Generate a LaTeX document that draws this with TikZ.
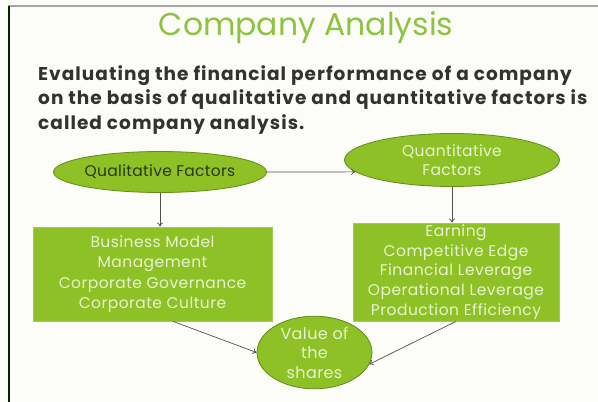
\documentclass[tikz,border=0pt]{standalone}
\usepackage{fontspec}
\setmainfont{Poppins}
\usetikzlibrary{shapes.geometric,arrows.meta,calc}
\definecolor{bg}{RGB}{252,252,248}
\definecolor{titlegreen}{RGB}{141,196,63}
\definecolor{fillgreen}{RGB}{141,193,38}
\definecolor{edgegreen}{RGB}{96,140,24}
\definecolor{boxedge}{RGB}{160,206,80}
\definecolor{lighttext}{RGB}{232,243,208}
\definecolor{darktext}{RGB}{40,56,16}
\definecolor{bodytext}{RGB}{50,50,50}
\definecolor{arrowgray}{RGB}{80,80,80}
\newcommand{\spc}[1]{\addfontfeature{LetterSpace=#1}}
\tikzset{
  oval/.style={ellipse, draw=edgegreen, line width=0.8pt, fill=fillgreen, inner sep=0pt, align=center},
  greenbox/.style={rectangle, draw=boxedge, line width=0.8pt, fill=fillgreen, inner sep=0pt, align=center, text=lighttext},
  conn/.style={draw=arrowgray, line width=0.7pt, -{To[length=4pt,width=6pt]}},
  bodyline/.style={anchor=base west, inner sep=0pt, text=bodytext, font=\bfseries\fontsize{18.5}{21}\selectfont\spc{5.6}}
}
\begin{document}
\begin{tikzpicture}[x=1pt,y=-1pt]
\fill[bg] (0,0) rectangle (598,402);
\useasboundingbox (0,0) rectangle (598,402);
\draw[gray!70, line width=1.5pt] (8,6) -- (598,6);
\draw[black!85!green, line width=1.5pt] (9,6) -- (9,402);

\node[text=titlegreen, font=\fontsize{31.5}{36}\selectfont, inner sep=0pt] (title) at (306,28) {Company Analysis};
\node[bodyline] (l1) at (38,80) {Evaluating the financial performance of a company};
\node[bodyline] (l2) at (38,104.5) {on the basis of qualitative and quantitative factors is};
\node[bodyline] (l3) at (38,129) {called company analysis.};

\node[oval, minimum width=196pt, minimum height=41pt, text=darktext, font=\fontsize{15.5}{17}\selectfont\spc{2}] (qual) at (160,172) {Qualitative Factors};
\node[oval, minimum width=215pt, minimum height=53pt, text=lighttext, font=\fontsize{15.5}{19}\selectfont\spc{2.2}] (quant) at (452,160) {Quantitative\\Factors};
\node[greenbox, minimum width=239pt, minimum height=94pt, font=\fontsize{15.5}{20.5}\selectfont\spc{3}] (lbox) at (152.5,274) {Business Model\\Management\\Corporate Governance\\Corporate Culture};
\node[greenbox, minimum width=206pt, minimum height=98pt, font=\fontsize{15.5}{19.7}\selectfont\spc{3.2}] (rbox) at (456,272) {Earning\\Competitive Edge\\Financial Leverage\\Operational Leverage\\Production Efficiency};
\node[oval, minimum width=115pt, minimum height=69pt, text=lighttext, font=\fontsize{16}{19.5}\selectfont\spc{2.5}] (value) at (314.5,352.5) {Value of\\the\\shares};

\draw[conn] (qual.east) -- (quant.187);
\draw[conn] (qual.south) -- (qual.south |- lbox.north);
\draw[conn] (quant.south) -- (quant.south |- rbox.north);
\draw[conn] ([xshift=20.5pt]lbox.south) -- (value.west);
\draw[conn] (rbox.south) -- (value.-12);
\end{tikzpicture}
\end{document}
